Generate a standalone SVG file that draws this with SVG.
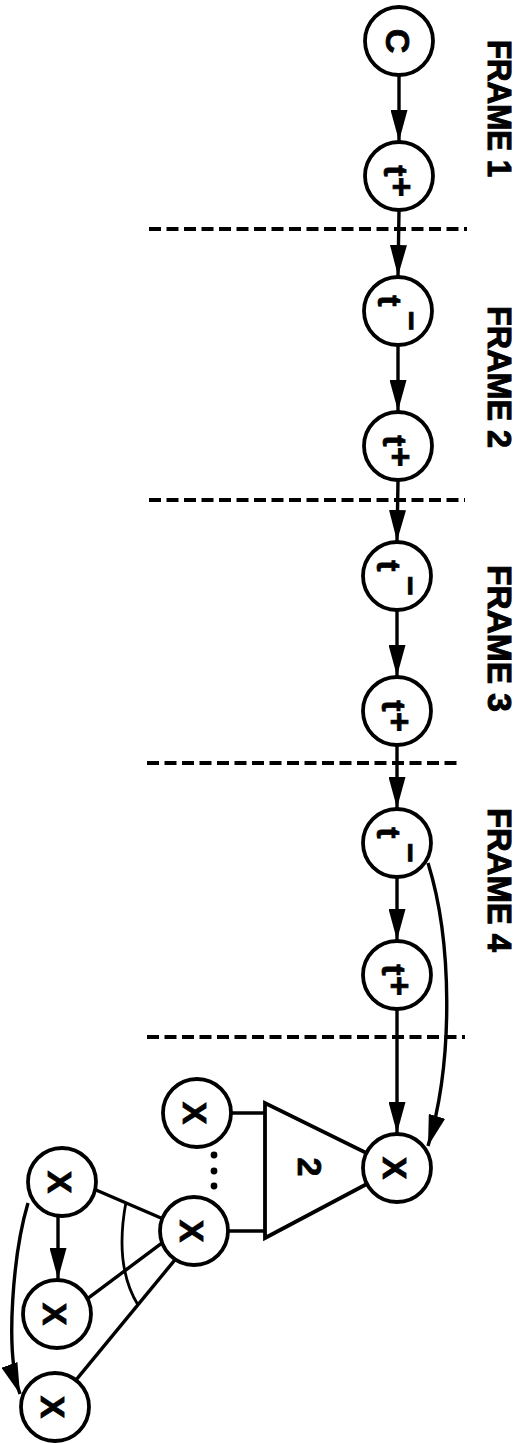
<svg xmlns="http://www.w3.org/2000/svg" width="523" height="1443" viewBox="0 0 523 1443">
<style>
.n circle{fill:#fff;stroke:#000;stroke-width:3.8}
.lbl{font-family:"Liberation Sans",Arial,Helvetica,sans-serif;font-weight:bold;font-size:34px;fill:#000;stroke:#000;stroke-width:0.8}
.frame{font-family:"Liberation Sans",Arial,Helvetica,sans-serif;font-weight:bold;font-size:33px;fill:#000;stroke:#000;stroke-width:1}
.e{fill:none;stroke:#000;stroke-width:3.4}
.a{marker-end:url(#ah)}
.dash{stroke:#000;stroke-width:3.8;stroke-dasharray:12 5.5}
.arc{fill:none;stroke:#000;stroke-width:2.8}
</style>
<defs>
<marker id="ah" markerUnits="userSpaceOnUse" markerWidth="31" markerHeight="17" refX="31" refY="8.5" orient="auto">
<path d="M0,0 L31,8.5 L0,17 z" fill="#000"/>
</marker>
</defs>
<rect width="523" height="1443" fill="#fff"/>

<g id="frame-labels">
<text class="frame" transform="translate(488,40) rotate(90)" textLength="137" lengthAdjust="spacingAndGlyphs">FRAME 1</text>
<text class="frame" transform="translate(488,306) rotate(90)" textLength="142" lengthAdjust="spacingAndGlyphs">FRAME 2</text>
<text class="frame" transform="translate(488,565) rotate(90)" textLength="147" lengthAdjust="spacingAndGlyphs">FRAME 3</text>
<text class="frame" transform="translate(488,808) rotate(90)" textLength="144" lengthAdjust="spacingAndGlyphs">FRAME 4</text>
</g>

<g id="frame-dividers">
<line class="dash" x1="149" y1="229" x2="467" y2="229"/>
<line class="dash" x1="149" y1="500" x2="465" y2="500"/>
<line class="dash" x1="147" y1="763" x2="462" y2="763"/>
<line class="dash" x1="147" y1="1037" x2="465" y2="1037"/>
</g>

<g id="connectors">
<path class="e a" d="M399,76 L399,141"/>
<path class="e a" d="M399,211 L398,276"/>
<path class="e a" d="M398,346 L398,411"/>
<path class="e a" d="M398,481 L397,541"/>
<path class="e a" d="M397,611 L397,676"/>
<path class="e a" d="M397,746 L397,808"/>
<path class="e a" d="M397,878 L397,940"/>
<path class="e a" d="M397,1010 L397,1133"/>
<path class="e a" d="M428,863 C452,940 454,1060 428,1146"/>
<path class="e" d="M230,1113 L266,1113"/>
<path class="e" d="M228,1231 L266,1231"/>
<path class="e" d="M91.4,1188 L165.6,1220"/>
<path class="e" d="M86.2,1299.6 L166.8,1239.4"/>
<path class="e" d="M72.8,1383.9 L177.2,1257.1"/>
<path class="e a" d="M58,1217 L58,1279"/>
<path class="e a" d="M28,1203 C14,1250 4,1350 20,1394"/>
<path class="arc" d="M126,1202 Q114,1266 138,1305"/>
<g id="ellipsis" fill="#000">
<circle cx="214" cy="1155" r="3.4"/>
<circle cx="214" cy="1171" r="3.4"/>
<circle cx="214" cy="1186" r="3.4"/>
</g>
</g>

<g id="c" class="n" transform="translate(399,41)">
<circle r="34"/>
<text class="lbl" transform="rotate(90)" x="0" y="13" text-anchor="middle">C</text>
</g>
<g id="tplus1" class="n" transform="translate(399,176)">
<circle r="34"/>
<text class="lbl" transform="rotate(90)" x="-5" y="15" text-anchor="middle">t</text>
<text class="lbl" transform="rotate(90)" x="11" y="9" text-anchor="middle">+</text>
</g>
<g id="tminus1" class="n" transform="translate(398,311)">
<circle r="34"/>
<text class="lbl" transform="rotate(90)" x="-10" y="20" text-anchor="middle">t</text>
<text class="lbl" transform="rotate(90)" x="10" y="-2" text-anchor="middle">−</text>
</g>
<g id="tplus2" class="n" transform="translate(398,446)">
<circle r="34"/>
<text class="lbl" transform="rotate(90)" x="-5" y="15" text-anchor="middle">t</text>
<text class="lbl" transform="rotate(90)" x="11" y="9" text-anchor="middle">+</text>
</g>
<g id="tminus2" class="n" transform="translate(397,576)">
<circle r="34"/>
<text class="lbl" transform="rotate(90)" x="-10" y="20" text-anchor="middle">t</text>
<text class="lbl" transform="rotate(90)" x="10" y="-2" text-anchor="middle">−</text>
</g>
<g id="tplus3" class="n" transform="translate(397,711)">
<circle r="34"/>
<text class="lbl" transform="rotate(90)" x="-5" y="15" text-anchor="middle">t</text>
<text class="lbl" transform="rotate(90)" x="11" y="9" text-anchor="middle">+</text>
</g>
<g id="tminus3" class="n" transform="translate(397,843)">
<circle r="34"/>
<text class="lbl" transform="rotate(90)" x="-10" y="20" text-anchor="middle">t</text>
<text class="lbl" transform="rotate(90)" x="10" y="-2" text-anchor="middle">−</text>
</g>
<g id="tplus4" class="n" transform="translate(397,975)">
<circle r="34"/>
<text class="lbl" transform="rotate(90)" x="-5" y="15" text-anchor="middle">t</text>
<text class="lbl" transform="rotate(90)" x="11" y="9" text-anchor="middle">+</text>
</g>

<g id="sum2">
<polygon points="265,1103 265,1238 397,1168" fill="#fff" stroke="#000" stroke-width="3.8"/>
<text class="lbl" transform="translate(298,1167) rotate(90)" text-anchor="middle">2</text>
</g>

<g id="xout" class="n" transform="translate(397,1168)">
<circle r="34"/>
<text class="lbl" transform="rotate(90)" x="0" y="14" text-anchor="middle">X</text>
</g>
<g id="xtop" class="n" transform="translate(197,1113)">
<circle r="34"/>
<text class="lbl" transform="rotate(90)" x="0" y="14" text-anchor="middle">X</text>
</g>
<g id="xmid" class="n" transform="translate(194,1231)">
<circle r="34"/>
<text class="lbl" transform="rotate(90)" x="0" y="14" text-anchor="middle">X</text>
</g>
<g id="xa" class="n" transform="translate(62,1182)">
<circle r="34"/>
<text class="lbl" transform="rotate(90)" x="0" y="14" text-anchor="middle">X</text>
</g>
<g id="xb" class="n" transform="translate(57,1314)">
<circle r="34"/>
<text class="lbl" transform="rotate(90)" x="0" y="14" text-anchor="middle">X</text>
</g>
<g id="xc" class="n" transform="translate(55,1407)">
<circle r="34"/>
<text class="lbl" transform="rotate(90)" x="0" y="14" text-anchor="middle">X</text>
</g>
</svg>
